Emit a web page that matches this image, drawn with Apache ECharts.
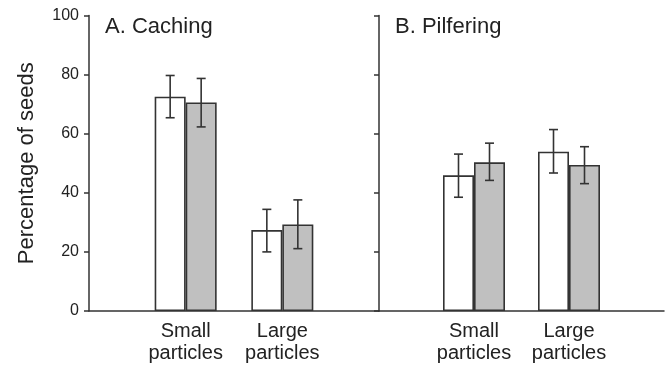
<!DOCTYPE html>
<html>
<head>
<meta charset="utf-8">
<script src="https://cdn.jsdelivr.net/npm/echarts@6/dist/echarts.min.js"></script>
<style>
  html, body { margin: 0; padding: 0; background: #fff; }
  #chart { width: 667px; height: 365px; }
</style>
</head>
<body>
<div id="chart"></div>
<script>
// Category slots: empty slots at both ends keep the two groups inside each panel
const categories = ['', 'Small\nparticles', 'Large\nparticles', ''];
const yTicks = [0, 20, 40, 60, 80, 100];

// A. Caching — mean percentage of seeds, with error-bar limits
const cachingWhite = [null, 72.5, 27.4, null];
const cachingWhiteLow = [null, 65.4, 20.0, null];
const cachingWhiteHigh = [null, 79.7, 34.4, null];
const cachingGray = [null, 70.6, 29.3, null];
const cachingGrayLow = [null, 62.3, 21.1, null];
const cachingGrayHigh = [null, 78.7, 37.6, null];

// B. Pilfering
const pilferWhite = [null, 45.9, 53.9, null];
const pilferWhiteLow = [null, 38.5, 46.7, null];
const pilferWhiteHigh = [null, 53.1, 61.4, null];
const pilferGray = [null, 50.3, 49.4, null];
const pilferGrayLow = [null, 44.2, 43.1, null];
const pilferGrayHigh = [null, 56.8, 55.6, null];

const BAR_W = 31;
const FONT = '"Liberation Sans", Arial, sans-serif';
const INK = '#222';
const EDGE = '#333';

function errorSeries(axisIdx, low, high, shift) {
  const data = [];
  low.forEach((v, i) => { if (v != null) data.push([i, v, high[i]]); });
  return {
    type: 'custom',
    xAxisIndex: axisIdx,
    yAxisIndex: axisIdx,
    silent: true,
    z: 5,
    data: data,
    encode: { x: 0, y: [1, 2] },
    renderItem: function (params, api) {
      const lo = api.coord([api.value(0), api.value(1)]);
      const hi = api.coord([api.value(0), api.value(2)]);
      const x = lo[0] + shift;
      const cap = 4.5;
      const style = { stroke: EDGE, lineWidth: 1.6 };
      return {
        type: 'group',
        children: [
          { type: 'line', shape: { x1: x, y1: lo[1], x2: x, y2: hi[1] }, style: style },
          { type: 'line', shape: { x1: x - cap, y1: lo[1], x2: x + cap, y2: lo[1] }, style: style },
          { type: 'line', shape: { x1: x - cap, y1: hi[1], x2: x + cap, y2: hi[1] }, style: style }
        ]
      };
    }
  };
}

function barSeries(axisIdx, values, fill) {
  return {
    type: 'bar',
    xAxisIndex: axisIdx,
    yAxisIndex: axisIdx,
    data: values,
    barWidth: BAR_W,
    barGap: '0%',
    silent: true,
    itemStyle: { color: fill, borderColor: EDGE, borderWidth: 1.6 }
  };
}

function xAxis(gridIdx) {
  return {
    type: 'category',
    gridIndex: gridIdx,
    data: categories,
    boundaryGap: false,
    axisLine: { lineStyle: { color: EDGE, width: 1.5 } },
    axisTick: { show: false },
    splitLine: { show: false },
    axisLabel: {
      interval: 0,
      color: INK,
      fontFamily: FONT,
      fontSize: 20,
      lineHeight: 22,
      margin: 9
    }
  };
}

function yAxis(gridIdx, showLabels) {
  const ax = {
    type: 'value',
    gridIndex: gridIdx,
    min: yTicks[0],
    max: yTicks[yTicks.length - 1],
    interval: yTicks[1] - yTicks[0],
    axisLine: { show: true, lineStyle: { color: EDGE, width: 1.5 } },
    axisTick: { show: true, length: 5, lineStyle: { color: EDGE, width: 1.5 } },
    splitLine: { show: false },
    axisLabel: {
      show: showLabels,
      color: INK,
      fontFamily: FONT,
      fontSize: 16,
      margin: 10
    }
  };
  if (showLabels) {
    ax.name = 'Percentage of seeds';
    ax.nameLocation = 'middle';
    ax.nameGap = 51;
    ax.nameTextStyle = { color: INK, fontFamily: FONT, fontSize: 22 };
  }
  return ax;
}

const chart = echarts.init(document.getElementById('chart'), null, { renderer: 'canvas' });
chart.setOption({
  animation: false,
  backgroundColor: '#fff',
  title: [
    { text: 'A. Caching', left: 100, top: 11,
      textStyle: { color: INK, fontFamily: FONT, fontSize: 22, fontWeight: 'normal' } },
    { text: 'B. Pilfering', left: 390, top: 11,
      textStyle: { color: INK, fontFamily: FONT, fontSize: 22, fontWeight: 'normal' } }
  ],
  grid: [
    { left: 89, top: 15.5, width: 290, bottom: 54 },
    { left: 379, top: 15.5, width: 290, bottom: 54 }
  ],
  xAxis: [xAxis(0), xAxis(1)],
  yAxis: [yAxis(0, true), yAxis(1, false)],
  series: [
    barSeries(0, cachingWhite, '#ffffff'),
    barSeries(0, cachingGray, '#c0c0c0'),
    barSeries(1, pilferWhite, '#ffffff'),
    barSeries(1, pilferGray, '#c0c0c0'),
    errorSeries(0, cachingWhiteLow, cachingWhiteHigh, -BAR_W / 2),
    errorSeries(0, cachingGrayLow, cachingGrayHigh, BAR_W / 2),
    errorSeries(1, pilferWhiteLow, pilferWhiteHigh, -BAR_W / 2),
    errorSeries(1, pilferGrayLow, pilferGrayHigh, BAR_W / 2)
  ]
});
</script>
</body>
</html>
